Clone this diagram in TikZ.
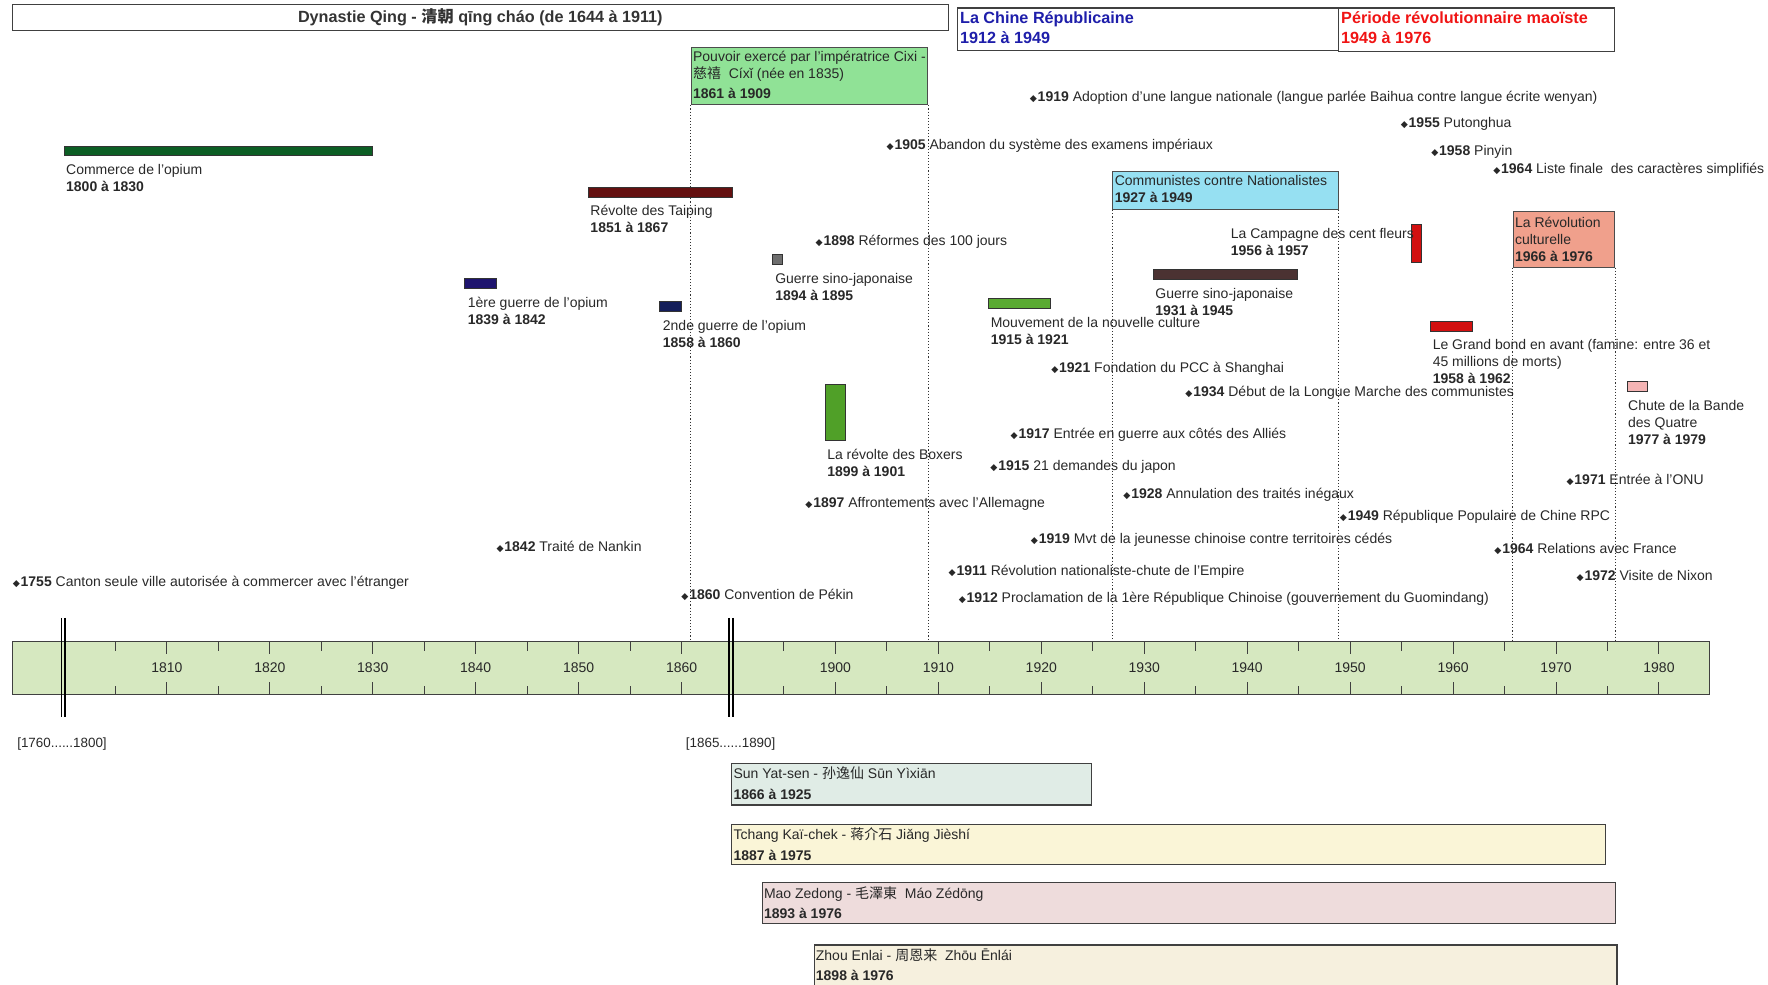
\documentclass[tikz,border=0pt]{standalone}
\usepackage{fontspec}
\setmainfont{Liberation Sans}
\newfontfamily\cjk{Noto Sans CJK SC}
\newfontfamily\dejavu{DejaVu Sans}
\usetikzlibrary{positioning,fit}

\definecolor{ink}{RGB}{40,40,40}
\definecolor{axisfill}{RGB}{214,232,192}
\definecolor{cixifill}{RGB}{144,226,150}
\definecolor{commfill}{RGB}{150,224,242}
\definecolor{revfill}{RGB}{240,160,140}
\definecolor{opiumgreen}{RGB}{12,94,36}
\definecolor{taipingred}{RGB}{100,16,16}
\definecolor{navyone}{RGB}{30,20,110}
\definecolor{navytwo}{RGB}{20,30,90}
\definecolor{sinogray}{RGB}{110,110,110}
\definecolor{boxergreen}{RGB}{80,160,40}
\definecolor{cultgreen}{RGB}{90,170,50}
\definecolor{sinobrown}{RGB}{75,50,50}
\definecolor{maored}{RGB}{210,16,16}
\definecolor{bandepink}{RGB}{244,180,180}
\definecolor{sunfill}{RGB}{224,236,230}
\definecolor{tchangfill}{RGB}{250,245,215}
\definecolor{maofill}{RGB}{238,220,220}
\definecolor{zhoufill}{RGB}{246,240,222}
\definecolor{repblue}{RGB}{30,30,170}
\definecolor{maoistred}{RGB}{240,20,20}

\newcommand{\evdot}{{\dejavu\fontsize{4.6}{4.6}\selectfont ◆}\kern0.4pt}

\begin{document}
\begin{tikzpicture}[
        x=0.5638pt, y=-0.5638pt,
        font=\fontsize{7}{8.5}\selectfont,
        text=ink,
        hdr/.style={draw=black!75, line width=0.6pt, inner sep=0pt},
        period/.style={draw=black!70, line width=0.5pt, inner sep=0pt},
        bar/.style={draw=black!80, line width=0.5pt, inner sep=0pt},
        person/.style={draw=black!75, line width=0.6pt, inner sep=0pt},
        lbl/.style={anchor=north west, inner sep=0pt, align=left},
        event/.style={anchor=base west, inner sep=0pt, yshift=-2.8pt},
        guide/.style={densely dotted, black!80, line width=0.55pt},
        tick/.style={black!75, line width=0.5pt},
        brk/.style={black, line width=0.9pt}
    ]
        \useasboundingbox (0,0) rectangle (1568,873);
        \clip (0,0) rectangle (1568,873);

        % Periods at the top
        \node (qing) [hdr, fit={(11,4) (841,27)}] {};
        \node (qingtxt) at (qing.center) [font=\fontsize{8.1}{9.6}\selectfont\bfseries, text=black!80] {Dynastie Qing - {\cjk 清朝} qīng cháo (de 1644 à 1911)};
        \node (repub) [hdr, fit={(849,7) (1187,45)}] {};
        \node (repubtxt) [lbl, font=\fontsize{8.1}{9.9}\selectfont\bfseries, text=repblue, below right=2pt and 1.5pt of repub.north west] {La Chine Républicaine\\1912 à 1949};
        \node (maoist) [hdr, fit={(1187,7) (1432,46)}] {};
        \node (maoisttxt) [lbl, font=\fontsize{8.1}{9.9}\selectfont\bfseries, text=maoistred, below right=2pt and 1.5pt of maoist.north west] {Période révolutionnaire maoïste\\1949 à 1976};

        % Time axis
        \node (axis) [draw=black!75, line width=0.8pt, fill=axisfill, inner sep=0pt, fit={(11,569) (1516,616)}] {};
        \foreach \yr in {1805,1815,...,1855} {
            \draw[tick] ({56.7+(\yr-1800)*9.13},569) -- ++(0,8);
            \draw[tick] ({56.7+(\yr-1800)*9.13},616) -- ++(0,-8);
        }
        \foreach \yr in {1810,1820,...,1860} {
            \draw[tick] ({56.7+(\yr-1800)*9.13},569) -- ++(0,11);
            \draw[tick] ({56.7+(\yr-1800)*9.13},616) -- ++(0,-11);
            \node (y\yr) at ({56.7+(\yr-1800)*9.13},592) {\yr};
        }
        \foreach \yr in {1895,1905,...,1975} {
            \draw[tick] ({649.6+(\yr-1890)*9.13},569) -- ++(0,8);
            \draw[tick] ({649.6+(\yr-1890)*9.13},616) -- ++(0,-8);
        }
        \foreach \yr in {1900,1910,...,1980} {
            \draw[tick] ({649.6+(\yr-1890)*9.13},569) -- ++(0,11);
            \draw[tick] ({649.6+(\yr-1890)*9.13},616) -- ++(0,-11);
            \node (y\yr) at ({649.6+(\yr-1890)*9.13},592) {\yr};
        }

        % Breaks in the axis
        \draw[brk] (54.5,548) -- (54.5,636);
        \draw[brk] (57.8,548) -- (57.8,636);
        \draw[brk] (646.8,548) -- (646.8,636);
        \draw[brk] (650.1,548) -- (650.1,636);
        \node (gap1) [anchor=west, inner sep=0pt, font=\fontsize{6.7}{8}\selectfont] at (15,660) {[1760......1800]};
        \node (gap2) [anchor=west, inner sep=0pt, font=\fontsize{6.7}{8}\selectfont] at (608,660) {[1865......1890]};

        % Periods with boxes
        \node (cixi) [period, fill=cixifill, fit={(613,42) (823,93)}] {};
        \node (cixitxt) [lbl, below right=2pt and 1pt of cixi.north west] {Pouvoir exercé par l'impératrice Cixi -\\{\cjk 慈禧}\ \ Cíxǐ (née en 1835)\\[1.6pt]\textbf{1861 à 1909}};
        \node (comm) [period, fill=commfill, fit={(987,152) (1187,186)}] {};
        \node (commtxt) [lbl, below right=2.2pt and 1pt of comm.north west] {Communistes contre Nationalistes\\\textbf{1927 à 1949}};
        \node (revcult) [period, fill=revfill, fit={(1342,188) (1432,237)}] {};
        \node (revculttxt) [lbl, below right=2.7pt and 1pt of revcult.north west] {La Révolution\\culturelle\\\textbf{1966 à 1976}};

        % Dotted guides down to the axis
        \draw[guide] (cixi.south west) -- (cixi.south west |- axis.north);
        \draw[guide] (cixi.south east) -- (cixi.south east |- axis.north);
        \draw[guide] (comm.south west) -- (comm.south west |- axis.north);
        \draw[guide] (comm.south east) -- (comm.south east |- axis.north);
        \draw[guide] (revcult.south west) -- (revcult.south west |- axis.north);
        \draw[guide] (revcult.south east) -- (revcult.south east |- axis.north);

        % Bars
        \node (opium) [bar, fill=opiumgreen, fit={(57,130) (330,138)}] {};
        \node (opiumtxt) [lbl, below right=3.9pt and 1pt of opium.south west] {Commerce de l'opium\\\textbf{1800 à 1830}};
        \node (taiping) [bar, fill=taipingred, fit={(522,166) (650,175)}] {};
        \node (taipingtxt) [lbl, below right=3.5pt and 1pt of taiping.south west] {Révolte des Taiping\\\textbf{1851 à 1867}};
        \node (opiumone) [bar, fill=navyone, fit={(412,247) (440,256)}] {};
        \node (opiumonetxt) [lbl, below right=3.9pt and 1.7pt of opiumone.south west] {1ère guerre de l'opium\\\textbf{1839 à 1842}};
        \node (opiumtwo) [bar, fill=navytwo, fit={(585,267) (604,276)}] {};
        \node (opiumtwotxt) [lbl, below right=3.9pt and 1.7pt of opiumtwo.south west] {2nde guerre de l'opium\\\textbf{1858 à 1860}};
        \node (sinoone) [bar, fill=sinogray, fit={(685,226) (694,235)}] {};
        \node (sinoonetxt) [lbl, below right=3.9pt and 1.5pt of sinoone.south west] {Guerre sino-japonaise\\\textbf{1894 à 1895}};
        \node (boxers) [bar, fill=boxergreen, fit={(732,341) (750,391)}] {};
        \node (boxerstxt) [lbl, below right=3.5pt and 1pt of boxers.south west] {La révolte des Boxers\\\textbf{1899 à 1901}};
        \node (culture) [bar, fill=cultgreen, fit={(877,265) (932,274)}] {};
        \node (culturetxt) [lbl, below right=3.9pt and 1pt of culture.south west] {Mouvement de la nouvelle culture\\\textbf{1915 à 1921}};
        \node (sinotwo) [bar, fill=sinobrown, fit={(1023,239) (1151,248)}] {};
        \node (sinotwotxt) [lbl, below right=3.9pt and 1pt of sinotwo.south west] {Guerre sino-japonaise\\\textbf{1931 à 1945}};
        \node (fleurs) [bar, fill=maored, fit={(1252,199) (1261,233)}] {};
        \node (fleurstxt) [lbl, anchor=north east] at ([xshift=1.5pt, yshift=-2.2pt]fleurs.north west) {La Campagne des cent fleurs\\\textbf{1956 à 1957}};
        \node (bond) [bar, fill=maored, fit={(1269,285) (1306,294)}] {};
        \node (bondtxt) [lbl, below right=3.5pt and 1pt of bond.south west] {Le Grand bond en avant (famine: entre 36 et\\45 millions de morts)\\\textbf{1958 à 1962}};
        \node (bande) [bar, fill=bandepink, fit={(1443,338) (1461,347)}] {};
        \node (bandetxt) [lbl, below right=3.9pt and 0.6pt of bande.south west] {Chute de la Bande\\des Quatre\\\textbf{1977 à 1979}};

        % Events
        \node (langue) [event] at (913,85) {\evdot\textbf{1919} Adoption d'une langue nationale (langue parlée Baihua contre langue écrite wenyan)};
        \node (putonghua) [event] at (1242,108) {\evdot\textbf{1955} Putonghua};
        \node (examens) [event] at (786,128) {\evdot\textbf{1905} Abandon du système des examens impériaux};
        \node (pinyin) [event] at (1269,133) {\evdot\textbf{1958} Pinyin};
        \node (simplif) [event] at (1324,149) {\evdot\textbf{1964} Liste finale \ des caractères simplifiés};
        \node (reformes) [event] at (723,213) {\evdot\textbf{1898} Réformes des 100 jours};
        \node (pcc) [event] at (932,325) {\evdot\textbf{1921} Fondation du PCC à Shanghai};
        \node (marche) [event] at (1051,347) {\evdot\textbf{1934} Début de la Longue Marche des communistes};
        \node (allies) [event] at (896,384) {\evdot\textbf{1917} Entrée en guerre aux côtés des Alliés};
        \node (demandes) [event] at (878,412) {\evdot\textbf{1915} 21 demandes du japon};
        \node (onu) [event] at (1389,425) {\evdot\textbf{1971} Entrée à l'ONU};
        \node (traites) [event] at (996,437) {\evdot\textbf{1928} Annulation des traités inégaux};
        \node (allemagne) [event] at (714,445) {\evdot\textbf{1897} Affrontements avec l'Allemagne};
        \node (rpc) [event] at (1188,457) {\evdot\textbf{1949} République Populaire de Chine RPC};
        \node (jeunesse) [event] at (914,477) {\evdot\textbf{1919} Mvt de la jeunesse chinoise contre territoires cédés};
        \node (nankin) [event] at (440,484) {\evdot\textbf{1842} Traité de Nankin};
        \node (france) [event] at (1325,486) {\evdot\textbf{1964} Relations avec France};
        \node (empire) [event] at (841,505) {\evdot\textbf{1911} Révolution nationaliste-chute de l'Empire};
        \node (nixon) [event] at (1398,510) {\evdot\textbf{1972} Visite de Nixon};
        \node (canton) [event] at (11,515) {\evdot\textbf{1755} Canton seule ville autorisée à commercer avec l'étranger};
        \node (proclam) [event] at (850,529) {\evdot\textbf{1912} Proclamation de la 1ère République Chinoise (gouvernement du Guomindang)};
        \node (pekin) [event] at (604,527) {\evdot\textbf{1860} Convention de Pékin};

        % People
        \node (sun) [person, fill=sunfill, fit={(649,677) (968,714)}] {};
        \node (suntxt) [lbl, below right=2pt and 1pt of sun.north west] {Sun Yat-sen - {\cjk 孙逸仙} Sūn Yìxiān\\[1.6pt]\textbf{1866 à 1925}};
        \node (tchang) [person, fill=tchangfill, fit={(649,731) (1424,767)}] {};
        \node (tchangtxt) [lbl, below right=2pt and 1pt of tchang.north west] {Tchang Kaï-chek - {\cjk 蒋介石} Jiǎng Jièshí\\[1.6pt]\textbf{1887 à 1975}};
        \node (mao) [person, fill=maofill, fit={(676,783) (1433,819)}] {};
        \node (maotxt) [lbl, below right=2pt and 1pt of mao.north west] {Mao Zedong - {\cjk 毛澤東}\ \ Máo Zédōng\\[1.6pt]\textbf{1893 à 1976}};
        \node (zhou) [person, fill=zhoufill, fit={(722,838) (1434,884)}] {};
        \node (zhoutxt) [lbl, below right=2pt and 1pt of zhou.north west] {Zhou Enlai - {\cjk 周恩来}\ \ Zhōu Ēnlái\\[1.6pt]\textbf{1898 à 1976}};
    \end{tikzpicture}
\end{document}
